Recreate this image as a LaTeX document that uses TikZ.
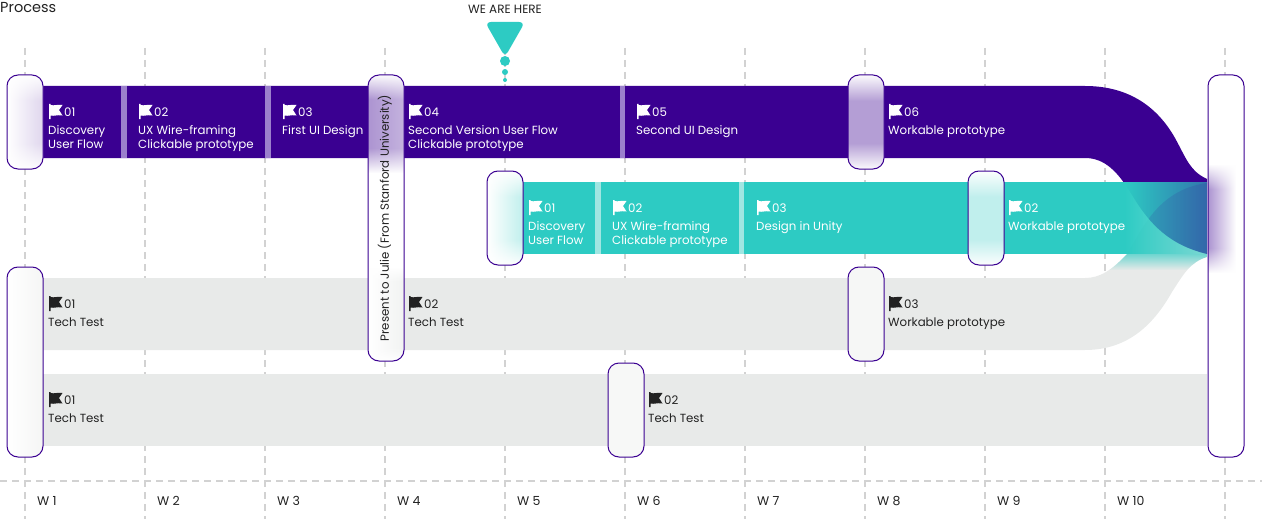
\documentclass[tikz,border=0pt]{standalone}
\usepackage{fontspec}
\setmainfont{Poppins}
\usetikzlibrary{fadings}
\definecolor{barpurple}{HTML}{3A0091}
\definecolor{barteal}{HTML}{2DCBC3}
\definecolor{bargray}{HTML}{E8EAE9}
\definecolor{seppurple}{HTML}{9B80CC}
\definecolor{septeal}{HTML}{A0E6E2}
\definecolor{gridgray}{HTML}{D2D2D2}
\definecolor{inkdark}{HTML}{222222}
\tikzfading[name=topveil, top color=transparent!0, bottom color=transparent!100]
\tikzfading[name=bottomveil, top color=transparent!100, bottom color=transparent!0]
\tikzfading[name=tealfade, left color=transparent!0, right color=transparent!42]
\tikzfading[name=skirtfade, top color=transparent!35, bottom color=transparent!100]
\newcommand{\pillbox}[3]{%
  \fill[white, rounded corners=11pt] #1 rectangle #2;
  \begin{scope}
    \clip[rounded corners=11pt] #1 rectangle #2;
    #3
  \end{scope}
  \draw[pillline] #1 rectangle #2;
}
% x1, x2, top, bottom, veil depth, shade colours
\newcommand{\glowband}[6]{%
  \shade[#6] (#1,#3) rectangle (#2,#4);
  \fill[white, path fading=topveil] (#1-1,#3-1) rectangle (#2+1,#3+#5);
  \fill[white, path fading=bottomveil] (#1-1,#4-#5) rectangle (#2+1,#4+1);
}
\begin{document}
\begin{tikzpicture}[x=1pt, y=-1pt,
    gridline/.style={gridgray, line width=1.4pt, dash pattern=on 7pt off 5pt},
    pillline/.style={draw=barpurple, line width=1pt, rounded corners=11pt},
    whitelabel/.style={white, anchor=base west, align=left, inner sep=0pt, font=\fontsize{11.8}{14}\selectfont},
    darklabel/.style={inkdark, anchor=base west, align=left, inner sep=0pt, font=\fontsize{11.8}{14}\selectfont},
    weeklabel/.style={inkdark, anchor=base west, inner sep=0pt, font=\fontsize{12.5}{14}\selectfont},
    flag/.pic={
      \fill (0,0) -- (1.7,0) -- (1.7,1) .. controls (5,2) and (8,0.2) .. (13.5,1) -- (10,6) -- (13.5,11.5) .. controls (8,10.5) and (5,12.5) .. (1.7,11.5) -- (1.7,15) -- (0,15) -- cycle;
    }]
    \useasboundingbox (0,0) rectangle (1262,519);

    % Grid
    \draw[gridline] (25,48) -- (25,519);
    \draw[gridline] (145,48) -- (145,519);
    \draw[gridline] (265,48) -- (265,519);
    \draw[gridline] (385,48) -- (385,519);
    \draw[gridline] (505,48) -- (505,519);
    \draw[gridline] (625,48) -- (625,519);
    \draw[gridline] (745,48) -- (745,519);
    \draw[gridline] (865,48) -- (865,519);
    \draw[gridline] (985,48) -- (985,519);
    \draw[gridline] (1105,48) -- (1105,519);
    \draw[gridline] (1225,48) -- (1225,519);
    \draw[gridline] (0,481) -- (1262,481);

    % Gray tracks
    \fill[bargray] (42,278) -- (1085,278) .. controls (1100,278) and (1112,270) .. (1127,254) .. controls (1140,235) and (1155,190) .. (1207,183) -- (1207,257) .. controls (1190,262) and (1183,275) .. (1172,292) .. controls (1155,322) and (1130,350) .. (1085,350) -- (42,350) -- cycle;
    \fill[bargray] (42,374) rectangle (1207,446);

    % Purple track
    \fill[barpurple] (42,86) -- (1085,86) .. controls (1130,86) and (1158,108) .. (1175,138) .. controls (1187,160) and (1190,171) .. (1207,179) -- (1207,254) .. controls (1170,245) and (1150,225) .. (1132,195) .. controls (1118,172) and (1105,158) .. (1085,158) -- (42,158) -- cycle;
    \fill[seppurple] (121,86) rectangle (127,158);
    \fill[seppurple] (265,86) rectangle (271,158);
    \fill[seppurple] (620,86) rectangle (625,158);

    % Teal track
    \fill[barteal] (522,182) rectangle (1125,254);
    \fill[barteal, path fading=tealfade] (1125,182) rectangle (1207,254);
    \fill[septeal] (595,182) rectangle (601,254);
    \fill[septeal] (739,182) rectangle (744,254);
    \begin{scope}
      \clip (1085,278) .. controls (1100,278) and (1112,270) .. (1127,254) -- (1207,254) -- (1207,257) .. controls (1190,262) and (1183,275) .. (1172,292) -- (1085,292) -- cycle;
      \fill[barteal, path fading=skirtfade] (1085,254) rectangle (1207,270);
    \end{scope}
    % where the tracks cross
    \begin{scope}
      \clip (1207,254) .. controls (1170,245) and (1150,225) .. (1132,195) -- (1132,182) -- (1207,182) -- cycle;
      \clip (1127,254) .. controls (1140,235) and (1155,190) .. (1207,183) -- (1207,254) -- cycle;
      \fill[barpurple, opacity=0.12] (1125,182) rectangle (1207,254);
    \end{scope}

    % Milestones
    \pillbox{(7,75)}{(43,169)}{\glowband{7}{43}{75}{169}{26}{left color=white, right color=barpurple!16}}
    \pillbox{(368,75)}{(404,361)}{%
      \glowband{368}{404}{75}{172}{24}{left color=barpurple!42, middle color=barpurple!12, right color=barpurple!30}
      \glowband{368}{404}{268}{361}{14}{left color=white, right color=bargray!60}}
    \pillbox{(848,75)}{(884,169)}{\glowband{848}{884}{75}{169}{26}{left color=barpurple!38, middle color=barpurple!22, right color=barpurple!38}}
    \pillbox{(487,171)}{(523,265)}{\glowband{487}{523}{171}{265}{26}{left color=white, middle color=white, right color=barteal!30}}
    \pillbox{(968,171)}{(1004,265)}{\glowband{968}{1004}{171}{265}{26}{left color=barteal!30, middle color=barteal!6, right color=barteal!30}}
    \pillbox{(7,267)}{(43,457)}{\shade[left color=white, right color=bargray!45] (7,267) rectangle (43,457);}
    \pillbox{(848,267)}{(884,361)}{\fill[bargray!40] (848,267) rectangle (884,361);}
    \pillbox{(608,363)}{(644,457)}{\fill[bargray!35] (608,363) rectangle (644,457);}
    \pillbox{(1208,75)}{(1244,457)}{\glowband{1208}{1236}{165}{272}{24}{left color=barpurple!42, right color=white}}

    % Purple labels
    \path pic[white] at (49,104) {flag};
    \node[whitelabel] (pnum1) at (64,116.5) {01};
    \node[whitelabel] (ptext1) at (48,148) {Discovery\\User Flow};
    \path pic[white] at (139,104) {flag};
    \node[whitelabel] (pnum2) at (154,116.5) {02};
    \node[whitelabel] (ptext2) at (138,148) {UX Wire-framing\\Clickable prototype};
    \path pic[white] at (283,104) {flag};
    \node[whitelabel] (pnum3) at (298,116.5) {03};
    \node[whitelabel] (ptext3) at (282,134) {First UI Design};
    \path pic[white] at (409,104) {flag};
    \node[whitelabel] (pnum4) at (424,116.5) {04};
    \node[whitelabel] (ptext4) at (408,148) {Second Version User Flow\\Clickable prototype};
    \path pic[white] at (637,104) {flag};
    \node[whitelabel] (pnum5) at (652,116.5) {05};
    \node[whitelabel] (ptext5) at (636,134) {Second UI Design};
    \path pic[white] at (889,104) {flag};
    \node[whitelabel] (pnum6) at (904,116.5) {06};
    \node[whitelabel] (ptext6) at (888,134) {Workable prototype};

    % Teal labels
    \path pic[white] at (529,200) {flag};
    \node[whitelabel] (tnum1) at (544,212.5) {01};
    \node[whitelabel] (ttext1) at (528,244) {Discovery\\User Flow};
    \path pic[white] at (613,200) {flag};
    \node[whitelabel] (tnum2) at (628,212.5) {02};
    \node[whitelabel] (ttext2) at (612,244) {UX Wire-framing\\Clickable prototype};
    \path pic[white] at (757,200) {flag};
    \node[whitelabel] (tnum3) at (772,212.5) {03};
    \node[whitelabel] (ttext3) at (756,230) {Design in Unity};
    \path pic[white] at (1009,200) {flag};
    \node[whitelabel] (tnum4) at (1024,212.5) {02};
    \node[whitelabel] (ttext4) at (1008,230) {Workable prototype};

    % Gray labels
    \path pic[inkdark] at (49,296) {flag};
    \node[darklabel] (gnum1) at (64,308.5) {01};
    \node[darklabel] (gtext1) at (48,326) {Tech Test};
    \path pic[inkdark] at (409,296) {flag};
    \node[darklabel] (gnum2) at (424,308.5) {02};
    \node[darklabel] (gtext2) at (408,326) {Tech Test};
    \path pic[inkdark] at (889,296) {flag};
    \node[darklabel] (gnum3) at (904,308.5) {03};
    \node[darklabel] (gtext3) at (888,326) {Workable prototype};
    \path pic[inkdark] at (49,392) {flag};
    \node[darklabel] (hnum1) at (64,404.5) {01};
    \node[darklabel] (htext1) at (48,422) {Tech Test};
    \path pic[inkdark] at (649,392) {flag};
    \node[darklabel] (hnum2) at (664,404.5) {02};
    \node[darklabel] (htext2) at (648,422) {Tech Test};

    \node[darklabel, anchor=center, rotate=90] (present) at (385,218) {Present to Julie (From Stanford University)};

    % Marker
    \fill[barteal, rounded corners=6pt] (485,22) -- (525,22) -- (505,57) -- cycle;
    \fill[barteal] (505,61) circle (5);
    \fill[barteal] (505,72) circle (3);
    \fill[barteal] (505,80) circle (2);
    \node[inkdark, inner sep=0pt, font=\fontsize{12}{14}\selectfont] (here) at (505,9) {WE ARE HERE};

    % Title
    \node[inkdark, anchor=base west, inner sep=0pt, font=\fontsize{14.5}{16}\selectfont] (title) at (0,13) {Process};

    % Weeks
    \node[weeklabel] (w1) at (37,505) {W 1};
    \node[weeklabel] (w2) at (157,505) {W 2};
    \node[weeklabel] (w3) at (277,505) {W 3};
    \node[weeklabel] (w4) at (397,505) {W 4};
    \node[weeklabel] (w5) at (517,505) {W 5};
    \node[weeklabel] (w6) at (637,505) {W 6};
    \node[weeklabel] (w7) at (757,505) {W 7};
    \node[weeklabel] (w8) at (877,505) {W 8};
    \node[weeklabel] (w9) at (997,505) {W 9};
    \node[weeklabel] (w10) at (1117,505) {W 10};
\end{tikzpicture}
\end{document}
